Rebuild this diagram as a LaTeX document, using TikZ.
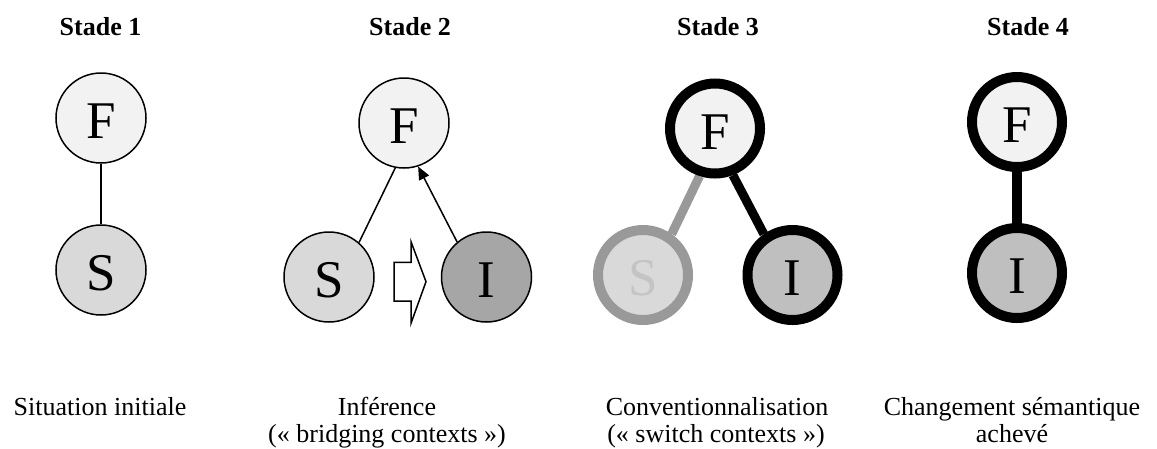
\documentclass[tikz,border=0pt]{standalone}
\usepackage{fontspec}
\setmainfont{Liberation Serif}
\usetikzlibrary{arrows.meta}
\pgfdeclarelayer{bg}
\pgfsetlayers{bg,main}
\definecolor{cF}{HTML}{F2F2F2}
\definecolor{cS}{HTML}{D9D9D9}
\definecolor{cItwo}{HTML}{A6A6A6}
\definecolor{cI}{HTML}{BFBFBF}
\definecolor{cGray}{HTML}{999999}
\definecolor{cSl}{HTML}{C4C4C4}
\begin{document}
\begin{tikzpicture}[x=1pt,y=1pt,
  circ/.style={circle, draw, minimum size=90pt, inner sep=0pt, line width=1.5pt,
    font=\fontsize{53}{60}\selectfont, text height=41pt, text depth=0pt},
  thickring/.style={line width=10pt},
  head/.style={font=\bfseries\fontsize{26}{30}\selectfont, anchor=base, inner sep=0pt},
  caption/.style={font=\fontsize{26}{30}\selectfont, anchor=base, inner sep=0pt},
  thinlink/.style={line width=1.5pt},
  boldlink/.style={line width=9pt}]
\useasboundingbox (0,0) rectangle (1157,-448);

% headers
\node[head] (h1) at (100.5,-35.7) {Stade 1};
\node[head] (h2) at (410,-35.7) {Stade 2};
\node[head] (h3) at (718,-35.7) {Stade 3};
\node[head] (h4) at (1028,-35.7) {Stade 4};

% circles
\node[circ, fill=cF] (F1) at (101,-118) {F};
\node[circ, fill=cS] (S1) at (101,-270) {S};
\node[circ, fill=cF] (F2) at (404,-123) {F};
\node[circ, fill=cS] (S2) at (329,-277) {S};
\node[circ, fill=cItwo] (I2) at (486.5,-277) {I};
\node[circ, fill=cF, thickring] (F3) at (715,-128.5) {F};
\node[circ, fill=cS, thickring, draw=cGray, text=cSl] (S3) at (643,-275) {S};
\node[circ, fill=cI, thickring] (I3) at (792.5,-275) {I};
\node[circ, fill=cF, thickring] (F4) at (1017,-122) {F};
\node[circ, fill=cI, thickring] (I4) at (1017,-273) {I};

% block arrow
\draw[line width=1.5pt, fill=white, line join=miter]
  (394,-262.3) -- (411,-262.3) -- (411,-241.7) -- (426,-281.7)
  -- (411,-323.3) -- (411,-301) -- (394,-301) -- cycle;

% connectors
\begin{pgfonlayer}{bg}
\draw[thinlink] (F1) -- (S1);
\draw[thinlink] (S2.49) -- (F2.259);
\draw[thinlink, -{Triangle[length=13pt,width=11pt]}] (I2.130) -- (F2.288);
\draw[boldlink, draw=cGray] (S3.55) -- (F3.252);
\draw[boldlink] (F3.-69) -- (I3.125);
\draw[line width=10pt] (F4) -- (I4);
\end{pgfonlayer}

% captions
\node[caption] (c1) at (100,-415.7) {Situation initiale};
\node[caption] (c2a) at (387,-415.7) {Inférence};
\node[caption] (c2b) at (387,-442) {(« bridging contexts »)};
\node[caption] (c3a) at (717,-415.7) {Conventionnalisation};
\node[caption] (c3b) at (716,-442) {(« switch contexts »)};
\node[caption] (c4a) at (1012,-415.7) {Changement sémantique};
\node[caption] (c4b) at (1012,-442) {achevé};
\end{tikzpicture}
\end{document}
